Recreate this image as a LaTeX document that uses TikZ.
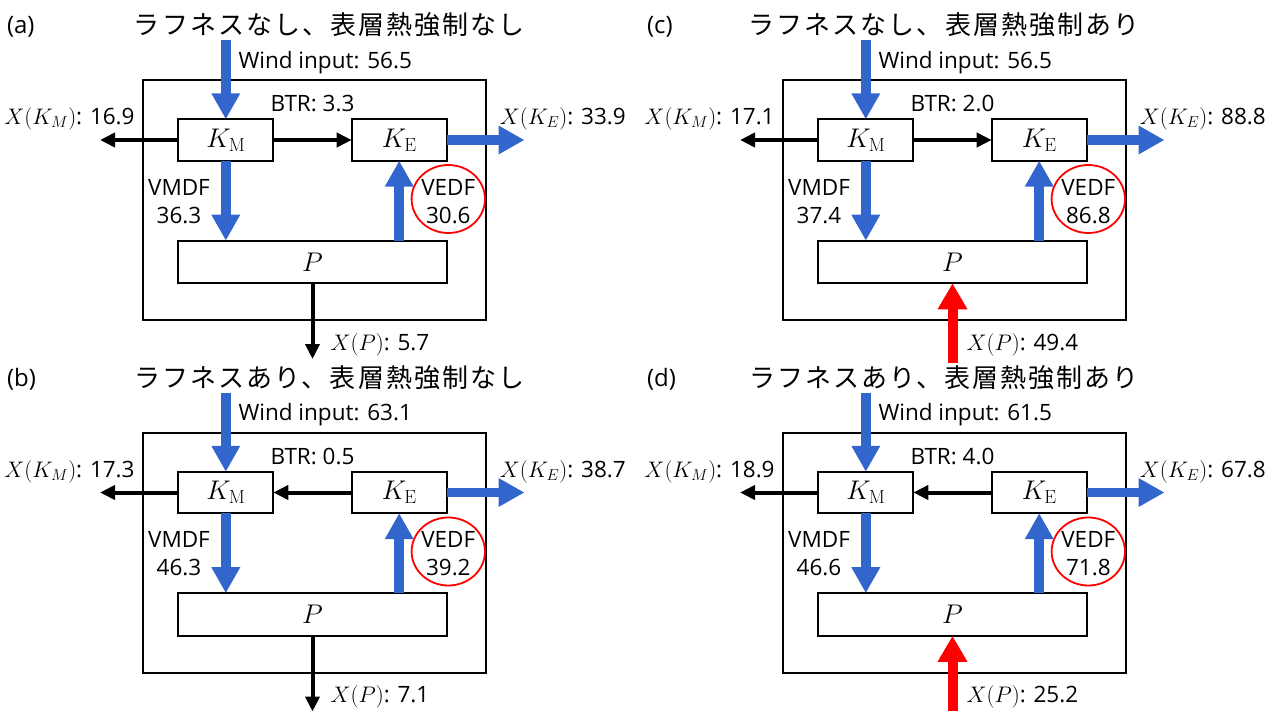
\documentclass[tikz,border=0pt]{standalone}
\usepackage{fix-cm}
\usepackage[no-math]{fontspec}
\setmainfont{Open Sans}
\newfontfamily\jpfont[LetterSpace=8]{Noto Sans CJK JP}
\usetikzlibrary{arrows.meta,calc,shapes.geometric}
\definecolor{fblue}{RGB}{51,102,204}
\definecolor{fred}{RGB}{255,0,0}
\tikzset{
  every node/.style={inner sep=0pt, outer sep=0pt},
  box/.style={draw, line width=2pt, fill=white, font=\fontsize{27}{30}\selectfont},
  outerbox/.style={draw, line width=2pt},
  lbl/.style={font=\fontsize{22.5}{28.3}\selectfont},
  letterlbl/.style={font=\fontsize{24}{28}\selectfont},
  ttl/.style={font=\jpfont\fontsize{26}{30}\selectfont},
  blueflow/.style={draw=fblue, line width=9.5pt, -{Triangle[width=27pt,length=26pt]}, fill=fblue},
  blkflow/.style={draw=black, line width=4pt, -{Triangle[width=14pt,length=15pt]}},
  redflow/.style={draw=fred, line width=10pt, -{Triangle[width=28pt,length=26pt]}, fill=fred},
  ring/.style={draw=fred, line width=1.8pt, ellipse, minimum width=73.4pt, minimum height=68pt},
}
\newcommand\drawpanel[3]{%
\begin{scope}[shift={(#1,#2)}]
  \node[outerbox, minimum width=343pt, minimum height=240pt] (O-#3) at (314.5,200) {};
  \node[box, minimum width=95pt, minimum height=41.4pt] (KM-#3) at (225.8,140) {$K_{\mathrm{M}}$};
  \node[box, minimum width=95pt, minimum height=41.4pt] (KE-#3) at (399.2,140) {$K_{\mathrm{E}}$};
  \node[box, minimum width=268.4pt, minimum height=42.6pt] (P-#3) at (312.5,262) {$P$};
  % labels
  \node[letterlbl, anchor=west] (L-#3) at (7,26.5) {(\pLetter)};
  \node[ttl] (T-#3) at (\pTX,25) {\pTitle};
  \node[lbl, anchor=base west] (W-#3) at (238.5,68.3) {Wind input: \pWind};
  \node[lbl, anchor=base] (B-#3) at (312.5,111.7) {BTR: \pBTR};
  \node[lbl, anchor=base east] (LXM-#3) at (134.6,124.5) {$X(K_M)$: \pXKM};
  \node[lbl, anchor=base west] (LXE-#3) at (499.8,124.5) {$X(K_E)$: \pXKE};
  \node[lbl, align=center] (LVM-#3) at (179,201.3) {VMDF\\\pVMDF};
  \node[ring] (R-#3) at (448.3,199) {};
  \node[lbl, align=center] (LVE-#3) at (448.3,201.3) {VEDF\\\pVEDF};
  \node[lbl, anchor=base west] (LXP-#3) at (\pXPlx,350) {$X(P)$: \pXPv};
  % connectors
  \coordinate (WS-#3) at (225.8,40);
  \draw[blueflow] (WS-#3) -- (KM-#3.north);
  \draw[blueflow] (KM-#3.south) -- (KM-#3.south |- P-#3.north);
  \draw[blueflow] (KE-#3.south |- P-#3.north) -- (KE-#3.south);
  \coordinate (XE-#3) at (524.5,140);
  \draw[blueflow] (KE-#3.east) -- (XE-#3);
  \coordinate (XM-#3) at (100,140);
  \draw[blkflow] (KM-#3.west) -- (XM-#3);
  \ifnum\pDir=1
    \draw[blkflow] (KM-#3) -- (KE-#3);
  \else
    \draw[blkflow] (KE-#3) -- (KM-#3);
  \fi
  \ifnum\pXPk=1
    \coordinate (XP-#3) at (312.5,359);
    \draw[blkflow] (P-#3.south) -- (XP-#3);
  \else
    \coordinate (XP-#3) at (312.5,\pXPy);
    \draw[redflow] (XP-#3) -- (P-#3.south);
  \fi
\end{scope}}
\begin{document}
\begin{tikzpicture}[x=1pt,y=-1pt]
\useasboundingbox (0,0) rectangle (1273,711);
% (a)
\def\pLetter{a}\def\pTitle{ラフネスなし、表層熱強制なし}\def\pTX{329.5}
\def\pWind{56.5}\def\pBTR{3.3}\def\pDir{1}\def\pXKM{16.9}\def\pXKE{33.9}
\def\pVMDF{36.3}\def\pVEDF{30.6}\def\pXPv{5.7}\def\pXPk{1}\def\pXPy{359}\def\pXPlx{330.5}
\drawpanel{0}{0}{a}
% (b)
\def\pLetter{b}\def\pTitle{ラフネスあり、表層熱強制なし}\def\pTX{329.5}
\def\pWind{63.1}\def\pBTR{0.5}\def\pDir{0}\def\pXKM{17.3}\def\pXKE{38.7}
\def\pVMDF{46.3}\def\pVEDF{39.2}\def\pXPv{7.1}\def\pXPk{1}\def\pXPy{359}\def\pXPlx{330.5}
\drawpanel{0}{352.5}{b}
% (c)
\def\pLetter{c}\def\pTitle{ラフネスなし、表層熱強制あり}\def\pTX{304}
\def\pWind{56.5}\def\pBTR{2.0}\def\pDir{1}\def\pXKM{17.1}\def\pXKE{88.8}
\def\pVMDF{37.4}\def\pVEDF{86.8}\def\pXPv{49.4}\def\pXPk{0}\def\pXPy{363}\def\pXPlx{326.5}
\drawpanel{640}{0}{c}
% (d)
\def\pLetter{d}\def\pTitle{ラフネスあり、表層熱強制あり}\def\pTX{304}
\def\pWind{61.5}\def\pBTR{4.0}\def\pDir{0}\def\pXKM{18.9}\def\pXKE{67.8}
\def\pVMDF{46.6}\def\pVEDF{71.8}\def\pXPv{25.2}\def\pXPk{0}\def\pXPy{359}\def\pXPlx{326.5}
\drawpanel{640}{352.5}{d}
\end{tikzpicture}
\end{document}
